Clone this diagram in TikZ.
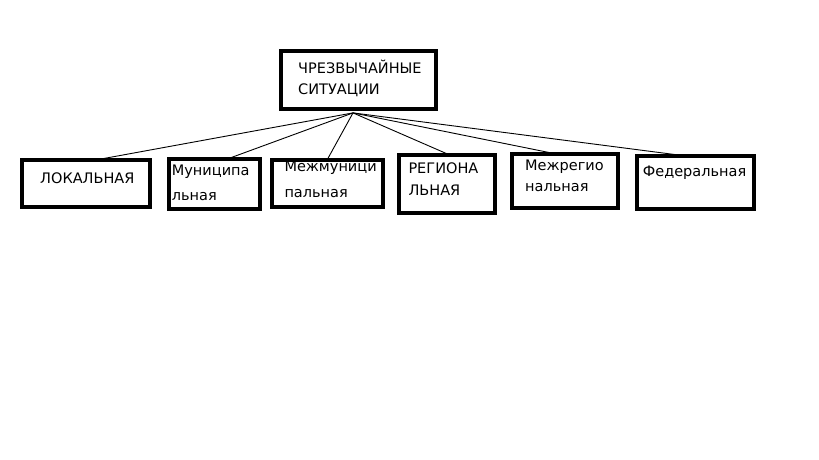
\documentclass[tikz,border=0pt]{standalone}
\usepackage{fontspec}
\setmainfont{DejaVu Sans}
\begin{document}
\begin{tikzpicture}[x=1pt,y=-1pt,
  box/.style={draw=black,line width=3.8pt,inner sep=0pt,fill=none},
  lbl/.style={anchor=base west,inner sep=0pt,font=\fontsize{14.5}{17}\selectfont},
  conn/.style={draw=black,line width=0.9pt}]
\useasboundingbox[fill=white] (0,0) rectangle (819,460);
% top box
\node[box,minimum width=155pt,minimum height=58pt] (top) at (358.5,80) {};
\node[lbl] (t1) at (298,73.3) {ЧРЕЗВЫЧАЙНЫЕ};
\node[lbl] (t2) at (298,95) {СИТУАЦИИ};
% bottom boxes
\node[box,minimum width=128pt,minimum height=47pt] (b1) at (86,183.5) {};
\node[box,minimum width=91pt,minimum height=50pt] (b2) at (214.5,184) {};
\node[box,minimum width=111pt,minimum height=47pt] (b3) at (327.5,183.5) {};
\node[box,minimum width=96pt,minimum height=58pt] (b4) at (447,184) {};
\node[box,minimum width=106pt,minimum height=54pt] (b5) at (565,181) {};
\node[box,minimum width=117pt,minimum height=53pt] (b6) at (695.5,182.5) {};
% labels
\node[lbl] (l1) at (40,183.3) {ЛОКАЛЬНАЯ};
\node[lbl] (l2a) at (171.7,175) {Муниципа};
\node[lbl] (l2b) at (171.7,200) {льная};
\node[lbl] (l3a) at (284.3,171.7) {Межмуници};
\node[lbl] (l3b) at (284.3,197.7) {пальная};
\node[lbl] (l4a) at (408.3,173.3) {РЕГИОНА};
\node[lbl] (l4b) at (408.3,195) {ЛЬНАЯ};
\node[lbl] (l5a) at (525,170) {Межрегио};
\node[lbl] (l5b) at (525,191.7) {нальная};
\node[lbl] (l6) at (642.7,176.7) {Федеральная};
% connectors
\coordinate (hub) at ([xshift=-5.5pt,yshift=-2pt]top.south);
\draw[conn] (hub) -- ([xshift=9pt,yshift=-2pt]b1.north);
\draw[conn] (hub) -- ([xshift=12.5pt,yshift=-2pt]b2.north);
\draw[conn] (hub) -- ([xshift=-0.5pt,yshift=-2pt]b3.north);
\draw[conn] (hub) -- ([xshift=3pt,yshift=-2pt]b4.north);
\draw[conn] (hub) -- ([xshift=-8pt,yshift=-2pt]b5.north);
\draw[conn] (hub) -- ([xshift=-8.5pt,yshift=-2pt]b6.north);
\end{tikzpicture}
\end{document}
